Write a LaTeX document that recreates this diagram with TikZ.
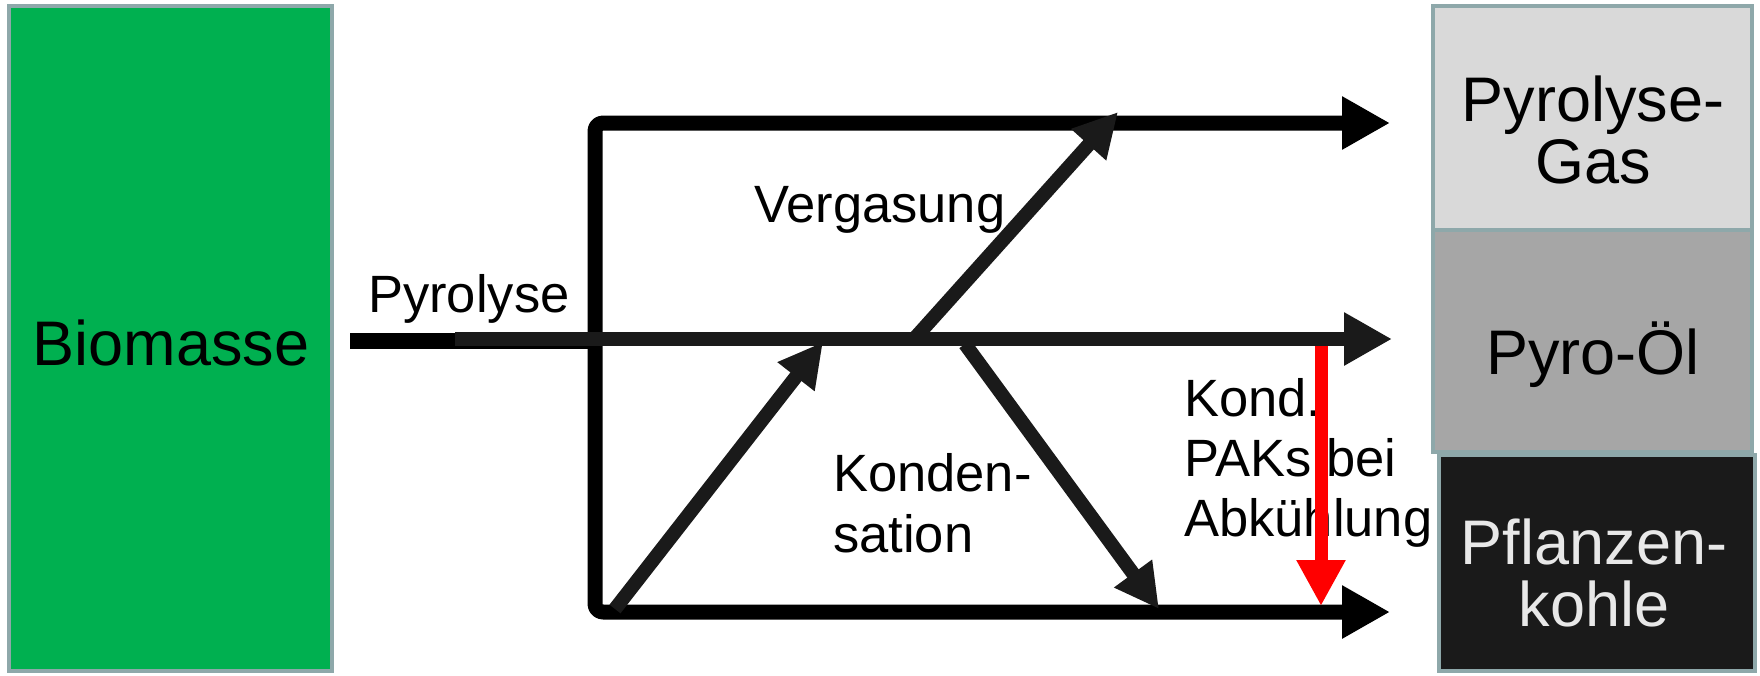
\documentclass[tikz,border=0pt]{standalone}
\usepackage{fontspec}
\setmainfont{Liberation Sans}
\usetikzlibrary{arrows.meta}
\definecolor{bgreen}{RGB}{0,176,80}
\definecolor{bframe}{RGB}{142,168,170}
\definecolor{gasfill}{RGB}{217,217,217}
\definecolor{oilfill}{RGB}{166,166,166}
\definecolor{charfill}{RGB}{26,26,26}
\definecolor{chartext}{RGB}{232,232,232}
\definecolor{darkline}{RGB}{26,26,26}
\definecolor{pakred}{RGB}{255,0,0}
\begin{document}
\begin{tikzpicture}[x=1pt,y=-1pt,
  bigtext/.style={font=\fontsize{63}{62}\selectfont, inner sep=0pt, align=center, anchor=base},
  smalltext/.style={font=\fontsize{52.5}{61}\selectfont, inner sep=0pt, align=left, anchor=base west},
  box/.style={draw=bframe, line width=4pt, inner sep=0pt, rectangle},
  bracketline/.style={line width=15pt, black, line join=round, rounded corners=8pt},
  flow/.style={line width=14pt, darkline},
  bigtip/.style={-{Triangle[length=48pt,width=50pt]}},
  bothtips/.style={{Triangle[length=48pt,width=50pt]}-{Triangle[length=48pt,width=50pt]}},
  diagtip/.style={-{Triangle[length=44pt,width=44pt]}},
  redtip/.style={-{Triangle[length=46pt,width=46pt]}}
]
\useasboundingbox (0,0) rectangle (1760,675);

% boxes
\node[box, fill=bgreen, minimum width=323pt, minimum height=665pt] (bio) at (170.5,338.5) {};
\node[box, fill=gasfill, minimum width=319pt, minimum height=224pt] (gas) at (1592.5,118) {};
\node[box, fill=oilfill, minimum width=319pt, minimum height=222pt] (oil) at (1592.5,341) {};
\node[box, fill=charfill, minimum width=316pt, minimum height=216pt] (char) at (1597,563) {};

% box texts (base = baseline of last line)
\node[bigtext] (biot) at (171,365) {Biomasse};
\node[bigtext] (gast) at (1593,183) {Pyrolyse-\\Gas};
\node[bigtext] (oilt) at (1593,374) {Pyro-Öl};
\node[bigtext, text=chartext] (chart) at (1594,626) {Pflanzen-\\kohle};

% coordinates
\coordinate (pstart) at (350,341);
\coordinate (pjoin) at (595,341);
\coordinate (pgray) at (455,339);
\coordinate (ptip) at (1392,339);
\coordinate (ttip) at (1390,123);
\coordinate (tcorner) at (595,123);
\coordinate (bcorner) at (595,612);
\coordinate (btip) at (1390,612);
\coordinate (vstart) at (915,338);
\coordinate (vtip) at (1118,112);
\coordinate (lstart) at (615,609);
\coordinate (ltip) at (823,342);
\coordinate (kstart) at (965,344);
\coordinate (ktip) at (1159,609);
\coordinate (rstart) at (1321,346);
\coordinate (rtip) at (1321,606);

% labels (base west = baseline of last line)
\node[smalltext] (pyl) at (368,312) {Pyrolyse};
\node[smalltext] (verg) at (754,222) {Vergasung};
\node[smalltext] (kond) at (833,552) {Konden-\\sation};
\node[smalltext, font=\fontsize{52.5}{60}\selectfont] (paks) at (1184,536) {Kond.\\PAKs bei\\Abkühlung};

% lines
\draw[bracketline, bothtips] (ttip) -- (tcorner) -- (bcorner) -- (btip);
\draw[line width=16pt, black] (pstart) -- (pjoin);
\draw[flow, bigtip] (pgray) -- (ptip);
\draw[flow, diagtip] (vstart) -- (vtip);
\draw[flow, diagtip] (lstart) -- (ltip);
\draw[flow, diagtip] (kstart) -- (ktip);
\draw[line width=13pt, pakred, redtip] (rstart) -- (rtip);
\end{tikzpicture}
\end{document}
